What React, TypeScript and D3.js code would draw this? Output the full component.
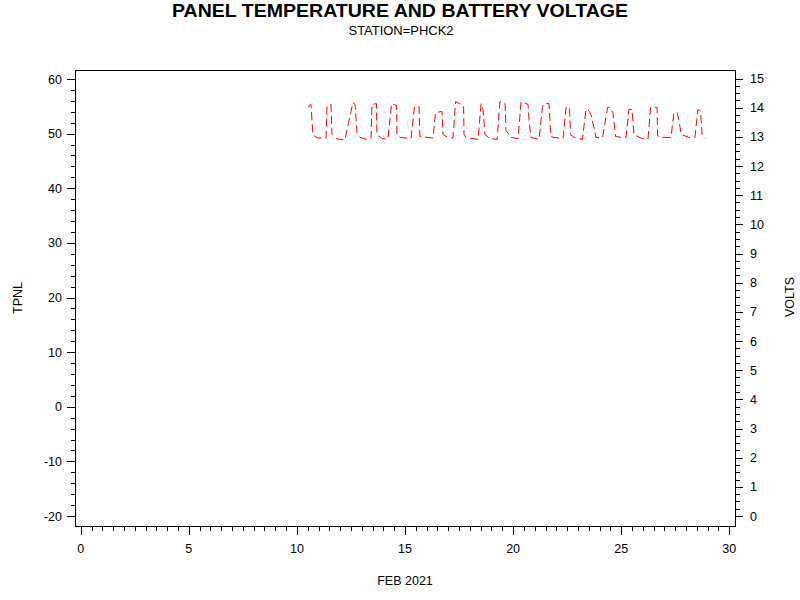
import React from "react";
import * as d3 from "d3";

const title = "PANEL TEMPERATURE AND BATTERY VOLTAGE";
const subtitle = "STATION=PHCK2";
const xLabel = "FEB 2021";
const leftLabel = "TPNL";
const rightLabel = "VOLTS";

const xTicks = [0, 5, 10, 15, 20, 25, 30];
const leftTicks = [60, 50, 40, 30, 20, 10, 0, -10, -20];
const rightTicks = [15, 14, 13, 12, 11, 10, 9, 8, 7, 6, 5, 4, 3, 2, 1, 0];

// day of month (fractional) for each battery voltage reading
const days = [
  10.51, 10.65, 10.74, 10.84, 10.98, 11.35, 11.39, 11.58, 11.62, 11.81,
  12.22, 12.59, 12.69, 12.78, 12.92, 13.24, 13.43, 13.47, 13.68, 13.7,
  13.94, 14.21, 14.38, 14.61, 14.63, 14.77, 15.28, 15.44, 15.65, 15.69,
  16.3, 16.41, 16.71, 16.76, 16.99, 17.22, 17.34, 17.52, 17.71, 17.73,
  17.82, 18.38, 18.52, 18.61, 18.7, 18.93, 19.26, 19.39, 19.63, 19.67,
  19.9, 20.23, 20.37, 20.69, 20.74, 20.83, 21.2, 21.36, 21.43, 21.66,
  21.75, 21.89, 22.31, 22.45, 22.61, 22.65, 22.82, 23.21, 23.37, 23.46,
  23.6, 23.76, 23.83, 24.14, 24.37, 24.48, 24.62, 24.74, 25.04, 25.22,
  25.36, 25.5, 25.59, 25.96, 26.24, 26.36, 26.66, 26.68, 26.89, 27.3,
  27.44, 27.58, 27.67, 27.77, 28.14, 28.41, 28.55, 28.67, 28.74, 28.92,
];
// battery voltage (right axis)
const volts = [
  14.01, 14.11, 13.08, 13.01, 12.96, 12.96, 14.04, 14.11, 13.08, 12.94,
  12.89, 14.18, 14.11, 13.15, 12.98, 12.91, 12.94, 14.11, 14.14, 13.08,
  12.94, 12.92, 14.14, 14.07, 13.08, 12.98, 12.94, 14.04, 14.04, 13.01,
  12.96, 13.83, 13.87, 13.08, 12.98, 12.96, 14.21, 14.14, 14.07, 13.08,
  12.98, 12.91, 14.14, 13.94, 13.08, 12.94, 12.91, 14.21, 14.14, 13.22,
  12.98, 12.94, 14.21, 14.11, 13.53, 12.98, 12.91, 14.04, 14.14, 14.14,
  13.01, 12.98, 12.94, 14.01, 14.01, 13.08, 12.98, 12.91, 13.94, 13.94,
  13.77, 13.25, 12.98, 12.98, 14.01, 14.01, 13.83, 13.01, 12.98, 12.98,
  13.94, 13.94, 13.08, 12.94, 12.94, 14.01, 14.01, 13.04, 12.98, 12.98,
  13.83, 13.83, 13.59, 13.08, 12.98, 12.98, 13.94, 13.87, 13.08, 12.94,
];

const FONT = "'Liberation Sans', Arial, Helvetica, sans-serif";

export default function App() {
  const frame = { left: 75, right: 735, top: 70, bottom: 526 };
  const x = d3.scaleLinear().domain([0, 30]).range([80.7, 729.3]);
  const yL = d3.scaleLinear().domain([-20, 60]).range([516, 79]);
  const yR = d3.scaleLinear().domain([0, 15]).range([516, 78.5]);

  const xMinor = d3.range(0, 30.001, 0.5).filter((v) => Math.abs(v % 5) > 1e-6);
  const lMinor = d3.range(-20, 60.001, 2).filter((v) => Math.abs(v % 10) > 1e-6);
  const rMinor = d3.range(0, 15.001, 0.25).filter((v) => Math.abs(v % 1) > 1e-6);

  const pts: [number, number][] = days.map((d, i) => [d, volts[i]]);
  const line = d3
    .line<[number, number]>()
    .x((p) => x(p[0]))
    .y((p) => yR(p[1]));

  const r = (v: number) => Math.round(v) + 0.5;

  return (
    <svg
      width={800}
      height={600}
      style={{ position: "fixed", left: 0, top: 0, background: "#fff" }}
      fontFamily={FONT}
    >
      <rect x={0} y={0} width={800} height={600} fill="#fff" />
      <text
        x={400}
        y={17}
        textAnchor="middle"
        fontSize={18}
        fontWeight="bold"
        textLength={456}
        lengthAdjust="spacingAndGlyphs"
      >
        {title}
      </text>
      <text x={401} y={35} textAnchor="middle" fontSize={12.5} textLength={105} lengthAdjust="spacingAndGlyphs">
        {subtitle}
      </text>

      {/* frame */}
      <rect
        x={frame.left + 0.5}
        y={frame.top + 0.5}
        width={frame.right - frame.left}
        height={frame.bottom - frame.top}
        fill="none"
        stroke="#000"
        strokeWidth={1}
      />

      <g stroke="#000" strokeWidth={1} shapeRendering="crispEdges">
        {xTicks.map((t) => (
          <line key={"xm" + t} x1={r(x(t))} x2={r(x(t))} y1={frame.bottom} y2={frame.bottom + 9} />
        ))}
        {xMinor.map((t) => (
          <line key={"xn" + t} x1={r(x(t))} x2={r(x(t))} y1={frame.bottom} y2={frame.bottom + 5} />
        ))}
        {leftTicks.map((t) => (
          <line key={"lm" + t} x1={frame.left - 8} x2={frame.left} y1={r(yL(t))} y2={r(yL(t))} />
        ))}
        {lMinor.map((t) => (
          <line key={"ln" + t} x1={frame.left - 4} x2={frame.left} y1={r(yL(t))} y2={r(yL(t))} />
        ))}
        {rightTicks.map((t) => (
          <line key={"rm" + t} x1={frame.right} x2={frame.right + 8} y1={r(yR(t))} y2={r(yR(t))} />
        ))}
        {rMinor.map((t) => (
          <line key={"rn" + t} x1={frame.right} x2={frame.right + 5} y1={r(yR(t))} y2={r(yR(t))} />
        ))}
      </g>

      <g fontSize={12.5} fill="#000">
        {xTicks.map((t) => (
          <text key={"xl" + t} x={x(t)} y={553} textAnchor="middle">
            {t}
          </text>
        ))}
        {leftTicks.map((t) => (
          <text key={"ll" + t} x={62} y={yL(t) + 4.5} textAnchor="end">
            {t}
          </text>
        ))}
        {rightTicks.map((t) => (
          <text key={"rl" + t} x={750} y={yR(t) + 4.5} textAnchor="start">
            {t}
          </text>
        ))}
        <text x={405} y={585} textAnchor="middle">
          {xLabel}
        </text>
        <text transform="translate(22,298) rotate(-90)" textAnchor="middle">
          {leftLabel}
        </text>
        <text transform="translate(794,297) rotate(-90)" textAnchor="middle">
          {rightLabel}
        </text>
      </g>

      <path
        d={line(pts) || ""}
        fill="none"
        stroke="#ff0000"
        strokeWidth={1}
        strokeDasharray="8 4"
      />
    </svg>
  );
}
